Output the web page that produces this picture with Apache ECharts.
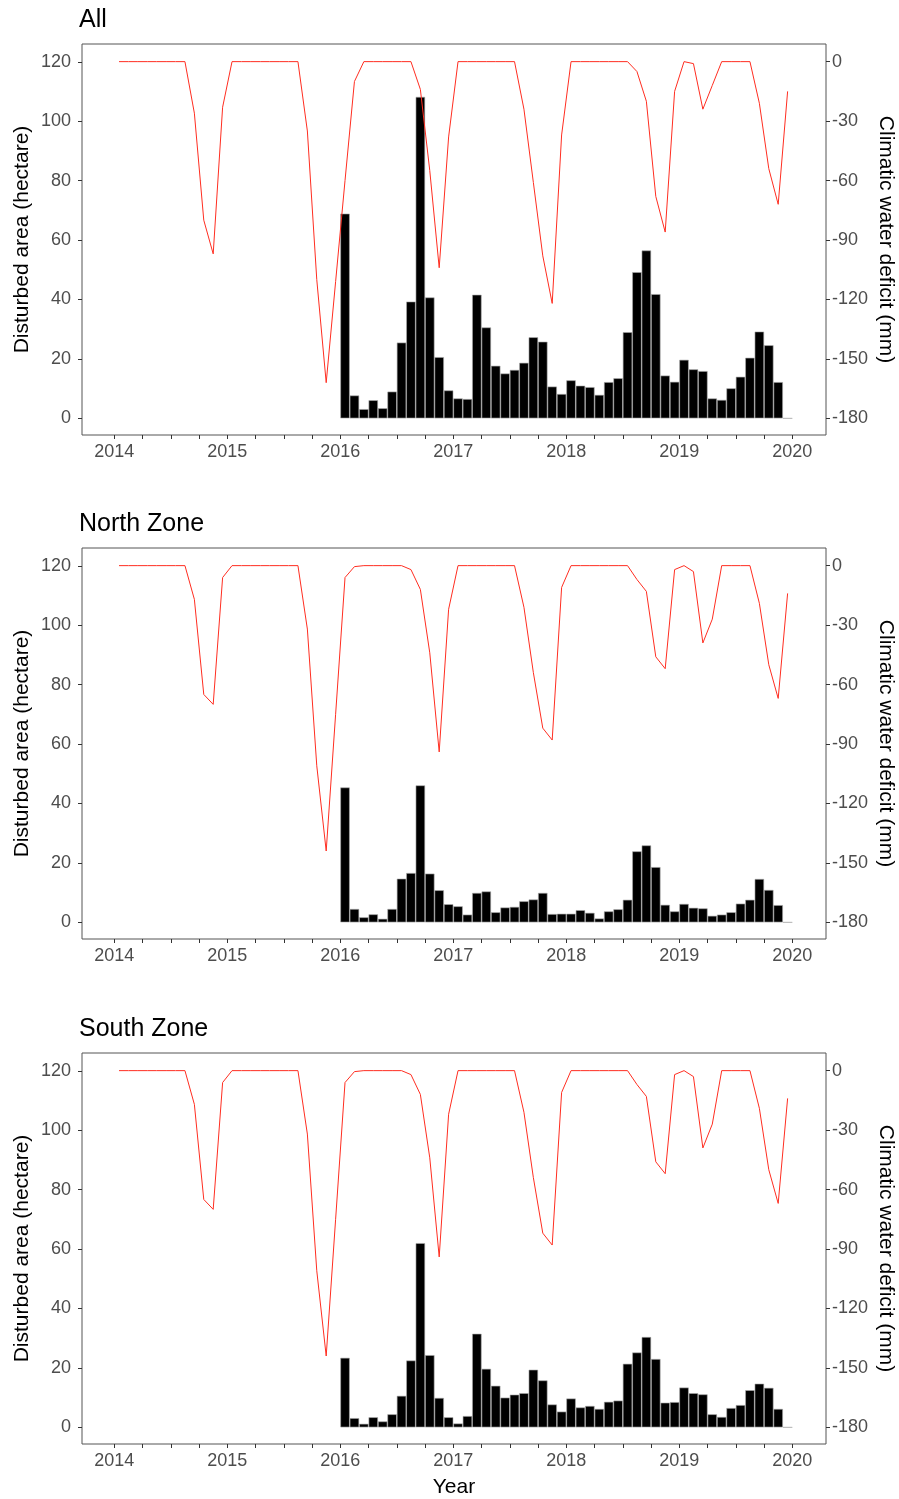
<!DOCTYPE html>
<html>
<head>
<meta charset="utf-8">
<script src="https://cdn.jsdelivr.net/npm/echarts@6/dist/echarts.min.js"></script>
<style>
  html, body { margin: 0; padding: 0; background: #fff; }
  #main { width: 899px; height: 1499px; }
</style>
</head>
<body>
<div id="main"></div>
<script>
// monthly disturbed area (hectare), Jan 2016 .. Dec 2019
const areaAll = [
  68.9, 7.7, 3.1, 6.1, 3.4, 9.0, 25.5, 39.3, 108.2, 40.7, 20.6, 9.4,
  6.7, 6.5, 41.6, 30.6, 17.7, 15.1, 16.3, 18.7, 27.3, 25.8, 10.7, 8.2,
  12.8, 11.0, 10.5, 7.9, 12.2, 13.5, 29.0, 49.2, 56.5, 41.8, 14.4, 12.3,
  19.7, 16.5, 15.9, 6.7, 6.2, 10.1, 14.0, 20.4, 29.2, 24.6, 12.2, 0
]
const areaNorth = [
  45.4, 4.5, 1.7, 2.7, 1.2, 4.5, 14.7, 16.6, 46.1, 16.4, 10.8, 6.1,
  5.4, 2.6, 9.9, 10.4, 3.4, 5.0, 5.2, 7.1, 7.7, 9.9, 2.8, 2.9,
  2.9, 4.1, 3.2, 1.3, 3.7, 4.4, 7.6, 23.9, 25.9, 18.6, 5.9, 3.7,
  6.2, 4.9, 4.7, 2.2, 2.6, 3.4, 6.3, 7.6, 14.6, 10.9, 5.8, 0
]
const areaSouth = [
  23.4, 3.1, 1.2, 3.4, 2.0, 4.4, 10.6, 22.5, 62.0, 24.3, 9.9, 3.4,
  1.3, 3.8, 31.5, 19.7, 14.0, 10.0, 11.0, 11.5, 19.4, 15.8, 7.7, 5.3,
  9.7, 6.7, 7.2, 6.2, 8.6, 9.0, 21.4, 25.2, 30.4, 23.0, 8.3, 8.5,
  13.4, 11.5, 11.1, 4.4, 3.5, 6.5, 7.5, 12.5, 14.7, 13.3, 6.2, 0
]

// monthly climatic water deficit (mm), Jan 2014 .. Dec 2019
const cwdAll = [
  0, 0, 0, 0, 0, 0, 0, 0, -26, -80, -97, -23,
  0, 0, 0, 0, 0, 0, 0, 0, -35, -110, -162, -111,
  -60, -10, 0, 0, 0, 0, 0, 0, -14, -55, -104, -38,
  0, 0, 0, 0, 0, 0, 0, -24, -61, -98, -122, -37,
  0, 0, 0, 0, 0, 0, 0, -5, -20, -68, -86, -15,
  0, -1, -24, -12, 0, 0, 0, 0, -21, -54, -72, -15
]
const cwdZone = [
  0, 0, 0, 0, 0, 0, 0, 0, -17, -65, -70, -6,
  0, 0, 0, 0, 0, 0, 0, 0, -32, -101, -144, -75,
  -6, -0.5, 0, 0, 0, 0, 0, -2, -12, -44, -94, -22,
  0, 0, 0, 0, 0, 0, 0, -21, -54, -82, -88, -11,
  0, 0, 0, 0, 0, 0, 0, -7, -13, -46, -52, -2,
  0, -3, -39, -27, 0, 0, 0, 0, -19, -50, -67, -14
]

const yearLabels = [2014, 2015, 2016, 2017, 2018, 2019, 2020]
const areaTicks = [0, 20, 40, 60, 80, 100, 120]
const cwdTicks = [-180, -150, -120, -90, -60, -30, 0]

const barStartYear = 2016
const lineStartYear = 2014

// quarter ticks between labelled years
const quarterTicks = []
yearLabels.forEach(y => {
  quarterTicks.push(y)
  if (y < 2020) quarterTicks.push(y + 0.25, y + 0.5, y + 0.75)
})

// mid-month position in decimal years
function monthX(startYear, i) {
  return startYear + (i + 0.5) / 12
}

const panels = [
  { title: 'All', top: 44, area: areaAll, cwd: cwdAll },
  { title: 'North Zone', top: 548, area: areaNorth, cwd: cwdZone },
  { title: 'South Zone', top: 1053, area: areaSouth, cwd: cwdZone }
]

const font = 'Liberation Sans, Arial, Helvetica, sans-serif'
const tickColor = '#333'
const labelColor = '#4d4d4d'

let myChart = echarts.init(document.getElementById('main'), null, { renderer: 'canvas' })

const option = {
  animation: false,
  textStyle: { fontFamily: font },
  title: panels.map(p => ({
    text: p.title,
    left: 79,
    top: p.top - 36,
    padding: 0,
    textStyle: { fontSize: 25, fontWeight: 'normal', color: '#000', fontFamily: font }
  })),
  grid: panels.map(p => ({
    left: 82,
    right: 73,
    top: p.top,
    height: 391,
    outerBoundsMode: 'none',
    containLabel: false,
    show: true,
    borderColor: '#555',
    borderWidth: 1,
    backgroundColor: 'transparent'
  })),
  xAxis: panels.map((p, k) => ({
    type: 'value',
    gridIndex: k,
    position: 'bottom',
    min: 2013.714,
    max: 2020.298,
    axisLine: { show: false, onZero: false },
    splitLine: { show: false },
    axisTick: { show: true, customValues: quarterTicks, length: 4, lineStyle: { color: tickColor } },
    axisLabel: {
      customValues: yearLabels,
      color: labelColor,
      fontSize: 18,
      margin: 8,
      formatter: v => String(v)
    },
    name: k === 2 ? 'Year' : '',
    nameLocation: 'middle',
    nameGap: 33,
    nameMoveOverlap: false,
    nameTextStyle: { fontSize: 21, color: '#000' }
  })),
  yAxis: [],
  series: []
}

panels.forEach((p, k) => {
  option.yAxis.push({
    type: 'value',
    gridIndex: k,
    position: 'left',
    min: -5.6,
    max: 126,
    axisLine: { show: false, onZero: false },
    splitLine: { show: false },
    axisTick: { show: true, customValues: areaTicks, length: 4, lineStyle: { color: tickColor } },
    axisLabel: { customValues: areaTicks, color: labelColor, fontSize: 18, margin: 11 },
    name: 'Disturbed area (hectare)',
    nameLocation: 'middle',
    nameGap: 49,
    nameMoveOverlap: false,
    nameTextStyle: { fontSize: 21, color: '#000' }
  })
  option.yAxis.push({
    type: 'value',
    gridIndex: k,
    position: 'right',
    min: -188.4,
    max: 8.9,
    axisLine: { show: false, onZero: false },
    splitLine: { show: false },
    axisTick: { show: true, customValues: cwdTicks, length: 4, lineStyle: { color: tickColor } },
    axisLabel: { customValues: cwdTicks, color: labelColor, fontSize: 18, margin: 6 },
    name: 'Climatic water deficit (mm)',
    nameLocation: 'middle',
    nameRotate: -90,
    nameGap: 49,
    nameMoveOverlap: false,
    nameTextStyle: { fontSize: 21, color: '#000' }
  })

  option.series.push({
    type: 'bar',
    xAxisIndex: k,
    yAxisIndex: 2 * k,
    data: p.area.map((v, i) => [monthX(barStartYear, i), v]),
    barWidth: 9.4,
    itemStyle: { color: '#000', borderColor: '#aaa', borderWidth: 0.6 },
    z: 2
  })
  option.series.push({
    type: 'line',
    xAxisIndex: k,
    yAxisIndex: 2 * k + 1,
    data: p.cwd.map((v, i) => [monthX(lineStartYear, i), v]),
    symbol: 'none',
    lineStyle: { color: '#ff2d20', width: 1 },
    z: 3
  })
})

myChart.setOption(option)
</script>
</body>
</html>
